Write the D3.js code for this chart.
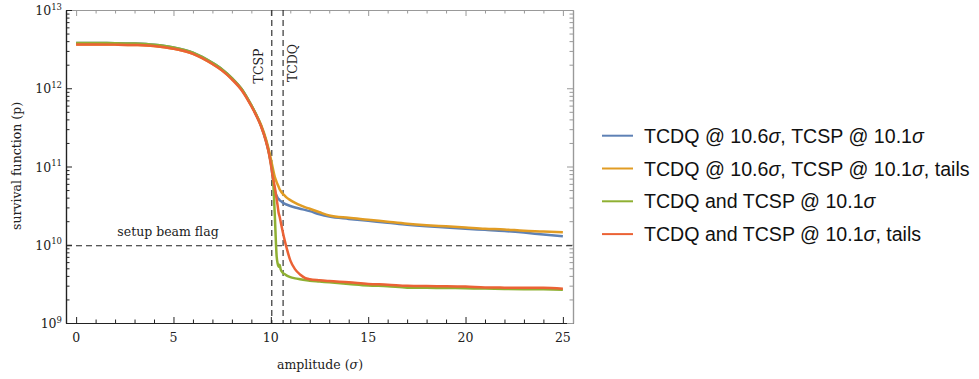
<!DOCTYPE html>
<html>
<head>
<meta charset="utf-8">
<script src="https://cdn.jsdelivr.net/npm/d3@7"></script>
<style>
  body { margin: 0; background: #fff; }
  .serif { font-family: "DejaVu Serif", serif; fill: #222; }
  .legend { font-family: "Liberation Sans", Arial, sans-serif; font-size: 19.6px; fill: #111; }
</style>
</head>
<body>
<script>
// amplitude grid (sigma)
const amplitude = [0,1,2,3,4,5,6,7,7.5,8,8.5,9,9.25,9.5,9.75,9.9,10,10.1,10.2,10.3,10.35,10.4,10.45,10.5,10.6,10.7,10.8,11,11.25,11.5,11.75,12,12.5,13,14,15,16,17,18,19,20,21,22,23,24,25];

// survival function values (p) for each configuration
const tcdqTcspSep = [3.78e12,3.78e12,3.77e12,3.72e12,3.59e12,3.31e12,2.85e12,2.11e12,1.74e12,1.35e12,9.77e11,6.03e11,4.57e11,3.31e11,2.14e11,1.51e11,1.12e11,
  7.24e10,5.01e10,4.22e10,3.98e10,3.85e10,3.73e10,3.63e10,3.47e10,3.35e10,3.27e10,3.13e10,2.99e10,2.88e10,2.79e10,2.69e10,2.45e10,2.29e10,2.14e10,2.02e10,1.91e10,1.80e10,1.72e10,1.66e10,1.60e10,1.55e10,1.50e10,1.43e10,1.35e10,1.28e10];
const tcdqTcspSepTails = [3.63e12,3.63e12,3.61e12,3.57e12,3.47e12,3.20e12,2.75e12,2.04e12,1.69e12,1.32e12,9.66e11,6.03e11,4.62e11,3.39e11,2.24e11,1.62e11,1.26e11,
  9.55e10,7.41e10,6.31e10,5.89e10,5.50e10,5.13e10,4.90e10,4.52e10,4.27e10,4.03e10,3.72e10,3.43e10,3.20e10,3.02e10,2.88e10,2.60e10,2.37e10,2.21e10,2.09e10,1.97e10,1.86e10,1.78e10,1.72e10,1.66e10,1.60e10,1.57e10,1.51e10,1.48e10,1.44e10];
const tcdqTcspSame = [3.78e12,3.78e12,3.77e12,3.72e12,3.59e12,3.31e12,2.85e12,2.11e12,1.74e12,1.35e12,9.77e11,6.03e11,4.57e11,3.31e11,2.14e11,1.51e11,1.12e11,
  7.94e10,2.51e10,7.08e9,5.75e9,5.25e9,5.56e9,4.90e9,4.42e9,4.22e9,4.07e9,3.85e9,3.72e9,3.63e9,3.55e9,3.47e9,3.39e9,3.31e9,3.16e9,3.02e9,2.95e9,2.83e9,2.82e9,2.80e9,2.79e9,2.75e9,2.72e9,2.70e9,2.69e9,2.66e9];
const tcdqTcspSameTails = [3.63e12,3.63e12,3.61e12,3.57e12,3.47e12,3.20e12,2.75e12,2.04e12,1.68e12,1.30e12,9.44e11,5.89e11,4.47e11,3.24e11,2.09e11,1.48e11,1.07e11,
  7.41e10,5.50e10,3.80e10,3.16e10,2.57e10,2.29e10,2.00e10,1.51e10,1.17e10,9.33e9,6.31e9,4.84e9,4.17e9,3.78e9,3.63e9,3.51e9,3.43e9,3.31e9,3.16e9,3.09e9,2.99e9,2.96e9,2.95e9,2.92e9,2.85e9,2.83e9,2.82e9,2.82e9,2.74e9];

const seriesNames = ["TCDQ @ 10.6σ, TCSP @ 10.1σ", "TCDQ @ 10.6σ, TCSP @ 10.1σ, tails", "TCDQ and TCSP @ 10.1σ", "TCDQ and TCSP @ 10.1σ, tails"];
const seriesValues = [tcdqTcspSep, tcdqTcspSepTails, tcdqTcspSame, tcdqTcspSameTails];
const colors = ["#5e81b5", "#e19c24", "#8fb032", "#eb6235"];

const xTicks = [0, 5, 10, 15, 20, 25];
const yExponents = [9, 10, 11, 12, 13];
const collimators = [{name: "TCSP", at: 10.05}, {name: "TCDQ", at: 10.63}];
const beamFlag = 9.7e9;

const svg = d3.select("body").append("svg")
    .attr("width", 979)
    .attr("height", 379);

const x = d3.scaleLinear().domain([-0.52, 25.52]).range([66, 573]);
const y = d3.scaleLog().domain([1e9, 1e13]).range([323, 10]);

// minor ticks
const xMinor = d3.range(0, 26).filter(d => d % 5 !== 0);
const yMinor = [];
yExponents.slice(0, -1).forEach(e => { for (let k = 2; k < 10; k++) yMinor.push(k * Math.pow(10, e)); });

function drawAxis(axis, tx, ty, color) {
  const g = svg.append("g").attr("transform", `translate(${tx},${ty})`).call(axis);
  g.selectAll("text").remove();
  g.select(".domain").attr("stroke", color).attr("stroke-width", 1.2);
  g.selectAll(".tick line").attr("stroke", color);
  return g;
}

// bottom / left (dark), top / right (gray)
drawAxis(d3.axisBottom(x).tickValues(xTicks).tickSizeInner(-6).tickSizeOuter(0), 0, 323, "#222");
drawAxis(d3.axisBottom(x).tickValues(xMinor).tickSizeInner(-3.5).tickSizeOuter(0), 0, 323, "#222");
drawAxis(d3.axisTop(x).tickValues(xTicks).tickSizeInner(-6).tickSizeOuter(0), 0, 10, "#999");
drawAxis(d3.axisTop(x).tickValues(xMinor).tickSizeInner(-3.5).tickSizeOuter(0), 0, 10, "#999");
drawAxis(d3.axisLeft(y).tickValues(yExponents.map(e => Math.pow(10, e))).tickSizeInner(-6).tickSizeOuter(0), 66, 0, "#222");
drawAxis(d3.axisLeft(y).tickValues(yMinor).tickSizeInner(-3.5).tickSizeOuter(0), 66, 0, "#222");
drawAxis(d3.axisRight(y).tickValues(yExponents.map(e => Math.pow(10, e))).tickSizeInner(-6).tickSizeOuter(0), 573, 0, "#999");
drawAxis(d3.axisRight(y).tickValues(yMinor).tickSizeInner(-3.5).tickSizeOuter(0), 573, 0, "#999");

// tick labels
svg.selectAll(".xlab").data(xTicks).enter().append("text")
    .attr("class", "serif")
    .attr("x", d => x(d))
    .attr("y", 342)
    .attr("text-anchor", "middle")
    .attr("font-size", 12.5)
    .text(d => d);

const yl = svg.selectAll(".ylab").data(yExponents).enter().append("text")
    .attr("class", "serif")
    .attr("x", 62)
    .attr("y", d => y(Math.pow(10, d)) + 5)
    .attr("text-anchor", "end")
    .attr("font-size", 12.5);
yl.append("tspan").text("10");
yl.append("tspan").attr("font-size", 8.5).attr("dy", -5.5).text(d => d);

// axis titles
svg.append("text").attr("class", "serif")
    .attr("x", 320).attr("y", 369)
    .attr("text-anchor", "middle").attr("font-size", 12.5)
    .html('amplitude (<tspan font-style="italic">σ</tspan>)');
svg.append("text").attr("class", "serif")
    .attr("transform", "translate(21,166) rotate(-90)")
    .attr("text-anchor", "middle").attr("font-size", 12.5)
    .text("survival function (p)");

// reference lines
svg.selectAll(".coll").data(collimators).enter().append("line")
    .attr("x1", d => x(d.at)).attr("x2", d => x(d.at))
    .attr("y1", 10).attr("y2", 323)
    .attr("stroke", "#222").attr("stroke-width", 1.1)
    .attr("stroke-dasharray", "6,4");
svg.selectAll(".colllab").data(collimators).enter().append("text")
    .attr("class", "serif")
    .attr("transform", (d, i) => `translate(${x(d.at) + (i === 0 ? -9 : 14)},${i === 0 ? 66 : 63}) rotate(-90)`)
    .attr("text-anchor", "middle")
    .attr("font-size", 12.5)
    .text(d => d.name);

svg.append("line")
    .attr("x1", 66).attr("x2", 573)
    .attr("y1", y(beamFlag)).attr("y2", y(beamFlag))
    .attr("stroke", "#222").attr("stroke-width", 1.1)
    .attr("stroke-dasharray", "6,4");
svg.append("text").attr("class", "serif")
    .attr("x", 168).attr("y", y(beamFlag) - 10)
    .attr("text-anchor", "middle").attr("font-size", 12.5)
    .text("setup beam flag");

// curves
const line = d3.line()
    .x((d, i) => x(amplitude[i]))
    .y(d => y(d))
    .curve(d3.curveMonotoneX);

seriesValues.forEach((vals, i) => {
  svg.append("path")
      .datum(vals)
      .attr("fill", "none")
      .attr("stroke", colors[i])
      .attr("stroke-width", 2.5)
      .attr("stroke-linejoin", "round")
      .attr("d", line);
});

// legend
seriesNames.forEach((name, i) => {
  const ly = 135.7 + i * 32.8;
  svg.append("line")
      .attr("x1", 602).attr("x2", 633)
      .attr("y1", ly).attr("y2", ly)
      .attr("stroke", colors[i]).attr("stroke-width", 2);
  const parts = name.split("σ");
  const t = svg.append("text").attr("class", "legend")
      .attr("x", 644).attr("y", ly + 7);
  parts.forEach((p, j) => {
    t.append("tspan").text(p);
    if (j < parts.length - 1) t.append("tspan").attr("font-style", "italic").text("σ");
  });
});
</script>
</body>
</html>
